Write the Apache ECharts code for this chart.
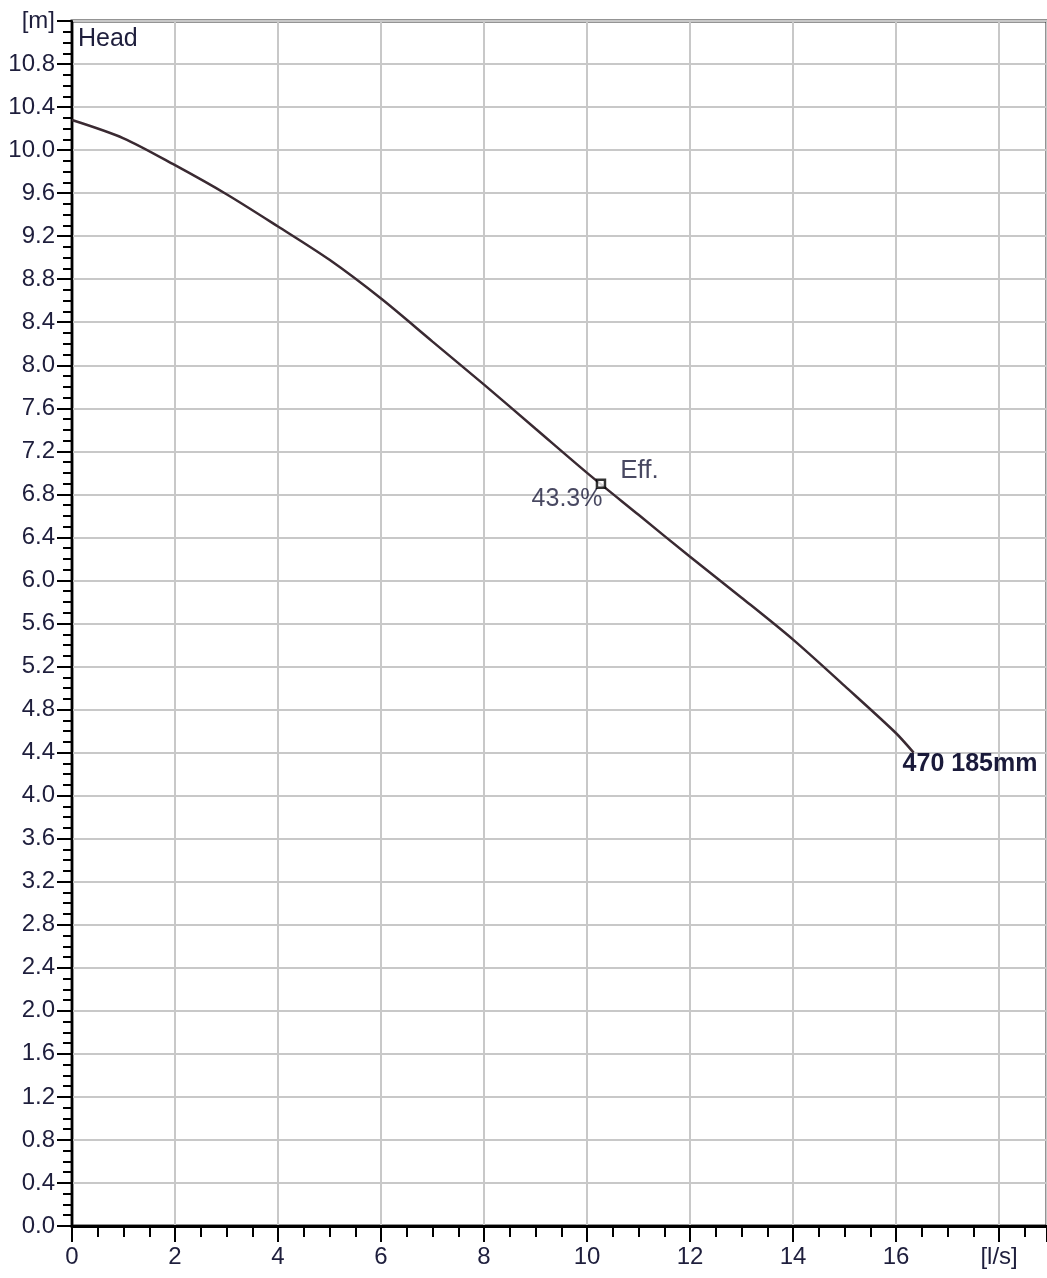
<!DOCTYPE html>
<html>
<head>
<meta charset="utf-8">
<script src="https://cdn.jsdelivr.net/npm/echarts@6/dist/echarts.min.js"></script>
<style>
html,body{margin:0;padding:0;background:#fff;}
#chart{width:1047px;height:1278px;}
</style>
</head>
<body>
<div id="chart"></div>
<script>
// Data
const flow = [0, 1, 2, 3, 4, 5, 6, 7, 8, 9, 10, 11, 12, 13, 14, 15, 16, 16.34];
const head = [10.28, 10.11, 9.86, 9.59, 9.29, 8.98, 8.62, 8.22, 7.82, 7.41, 7.00, 6.61, 6.22, 5.84, 5.45, 5.02, 4.58, 4.40];
const effPoint = [10.27, 6.90];
const effName = 'Eff.';
const effValue = '43.3%';
const curveName = '470 185mm';
const yTitle = 'Head';
const yUnit = '[m]';
const xUnit = '[l/s]';

const FONT = "'Liberation Sans', Arial, sans-serif";
const TXT = '#1e1e3c';
const FS = 24;

const chart = echarts.init(document.getElementById('chart'), null, {renderer: 'canvas'});
chart.setOption({
  animation: false,
  backgroundColor: '#fff',
  grid: {left: 72, top: 21, right: 0, height: 1205, show: true, borderColor: '#2a2a2a', borderWidth: 3},
  xAxis: {
    type: 'value', min: 0, max: 18.93, interval: 2,
    axisLine: {show: true, onZero: false, lineStyle: {color: '#000', width: 3}},
    axisTick: {show: true, length: 16, lineStyle: {color: '#000', width: 2}},
    minorTick: {show: true, splitNumber: 4, length: 11, lineStyle: {color: '#000', width: 2}},
    splitLine: {show: true, lineStyle: {color: '#c8c8c8', width: 2}},
    axisLabel: {
      margin: 19, color: TXT, fontSize: FS, fontFamily: FONT, showMaxLabel: false,
      formatter: v => Math.abs(v - 18) < 1e-6 ? xUnit : (v > 18 ? '' : String(v))
    }
  },
  yAxis: {
    type: 'value', min: 0, max: 11.2, interval: 0.4,
    axisLine: {show: true, onZero: false, lineStyle: {color: '#000', width: 2}},
    axisTick: {show: true, length: 15, lineStyle: {color: '#000', width: 2}},
    minorTick: {show: true, splitNumber: 4, length: 9, lineStyle: {color: '#000', width: 2}},
    splitLine: {show: true, lineStyle: {color: '#c8c8c8', width: 2}},
    axisLabel: {
      margin: 17, color: TXT, fontSize: FS, fontFamily: FONT, showMaxLabel: true,
      formatter: v => Math.abs(v - 11.2) < 1e-6 ? yUnit : v.toFixed(1)
    }
  },
  graphic: [{
    type: 'text', left: 78, top: 27,
    style: {text: yTitle, fill: TXT, font: '25px ' + FONT}
  }],
  series: [
    {
      type: 'line', smooth: 0.3, showSymbol: false,
      data: flow.map((x, i) => [x, head[i]]),
      lineStyle: {color: '#3a2a32', width: 2.5},
      endLabel: {
        show: true, formatter: curveName, distance: 0, offset: [-11, 12],
        color: '#1a1a3a', fontSize: 25, fontFamily: FONT, fontWeight: 'bold'
      },
      z: 3
    },
    {
      type: 'scatter', symbol: 'rect', symbolSize: 8,
      data: [effPoint],
      itemStyle: {color: '#fff', borderColor: '#000', borderWidth: 2.5},
      label: {
        show: true, position: 'right', distance: 14, offset: [0, -13],
        formatter: effName, color: '#1a1a3a', fontSize: 26, fontFamily: FONT
      },
      z: 5
    },
    {
      type: 'scatter', symbol: 'rect', symbolSize: 1,
      data: [effPoint],
      itemStyle: {color: 'rgba(0,0,0,0)'},
      label: {
        show: true, position: 'left', distance: 0, offset: [2, 15],
        formatter: effValue, color: '#1a1a3a', fontSize: 25, fontFamily: FONT
      },
      z: 4
    }
  ]
});
</script>
</body>
</html>
